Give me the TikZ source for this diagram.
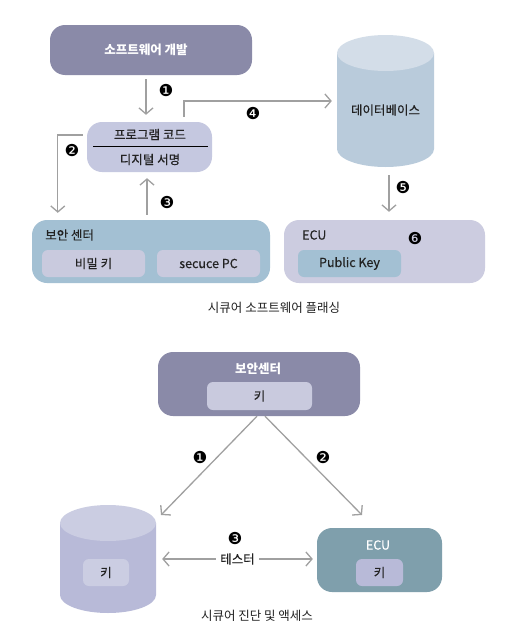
\documentclass[tikz,border=0pt]{standalone}
\usepackage{fontspec}
\setmainfont{Noto Sans CJK KR}
\newfontfamily\medf{Noto Sans CJK KR}[FakeBold=0.4]
\newfontfamily\djv{DejaVu Sans}
\usetikzlibrary{arrows.meta,calc}
\definecolor{purp}{HTML}{8A8AA8}
\definecolor{lav}{HTML}{C5C8E0}
\definecolor{bluebx}{HTML}{A3C0D3}
\definecolor{inlav}{HTML}{C9CADE}
\definecolor{ecubx}{HTML}{CCCCE0}
\definecolor{dbbody}{HTML}{B9CBDB}
\definecolor{dbtop}{HTML}{D3DDE8}
\definecolor{cylbody}{HTML}{B8BAD8}
\definecolor{cyltop}{HTML}{CBCDE2}
\definecolor{ecuteal}{HTML}{7F9FAC}
\definecolor{arrgray}{HTML}{A0A0A0}
\definecolor{txt}{HTML}{222222}
\tikzset{
  bigbox/.style={rectangle, rounded corners=15pt, inner sep=0pt, text=txt},
  inbox/.style={rectangle, rounded corners=6pt, inner sep=0pt, text=txt, font=\medf\fontsize{12.5}{14}\selectfont},
  arr/.style={draw=arrgray, line width=1.3pt, -{Straight Barb[length=6pt,width=14pt,line width=1.3pt]}},
  darr/.style={draw=arrgray, line width=1.3pt, {Straight Barb[length=6pt,width=14pt,line width=1.3pt]}-{Straight Barb[length=6pt,width=14pt,line width=1.3pt]}},
  num/.style={inner sep=0pt, font=\djv\fontsize{16.5}{16.5}\selectfont, text=black},
  lbl/.style={inner sep=0pt, text=txt, font=\medf\fontsize{12.5}{14}\selectfont},
  wlbl/.style={inner sep=0pt, text=white, font=\bfseries\fontsize{12.5}{14}\selectfont},
  captxt/.style={inner sep=0pt, text=txt, font=\fontsize{12.5}{14}\selectfont},
}
\begin{document}
\begin{tikzpicture}[x=1pt,y=-1pt]
\useasboundingbox[fill=white] (0,0) rectangle (510,637);
% ---------- top diagram ----------
\node[bigbox, fill=purp, minimum width=202pt, minimum height=50pt] (sw) at (151,50) {};
\node[wlbl] (swt) at (146,50) {소프트웨어 개발};
\node[bigbox, fill=lav, minimum width=125pt, minimum height=50pt] (code) at (149.5,147) {};
\draw[line width=0.8pt, black] (93,146) -- (208,146);
\node[lbl] (codet) at (150,134.5) {프로그램 코드};
\node[lbl] (sig) at (150,159.5) {디지털 서명};
% database cylinder
\node[minimum width=97pt, minimum height=132pt, inner sep=0pt] (db) at (385.5,101) {};
\fill[dbbody] (337,53) -- (337,149) arc[start angle=180, end angle=360, x radius=48.5, y radius=-18] -- (434,53) -- cycle;
\fill[dbtop] (385.5,53) ellipse[x radius=48.5, y radius=18];
\node[lbl] (dbt) at (385.5,110) {데이터베이스};
% security center
\node[bigbox, fill=bluebx, minimum width=238pt, minimum height=63pt] (sec) at (151,251.5) {};
\node[lbl, anchor=west] (sect) at (45,235) {보안 센터};
\node[inbox, fill=inlav, minimum width=103pt, minimum height=27pt] (skey) at (93.5,263.5) {비밀 키};
\node[inbox, fill=inlav, minimum width=103pt, minimum height=27pt] (spc) at (208.5,263.5) {secuce PC};
% ECU
\node[bigbox, fill=ecubx, minimum width=201pt, minimum height=63pt] (ecu) at (384.5,251.5) {};
\node[lbl, anchor=west] (ecut) at (302,235) {ECU};
\node[inbox, fill=bluebx, minimum width=103pt, minimum height=27pt] (pk) at (349.5,263.5) {Public Key};
% arrows
\coordinate (c1) at (146,0);
\coordinate (c3) at (147,0);
\coordinate (c5) at (389,0);
\draw[arr, shorten <=4pt, shorten >=7pt] (sw.south -| c1) -- (code.north -| c1);
\draw[arr] ($(code.west)+(-4,-12)$) -| ($(sec.north west)+(26,-7)$);
\draw[arr, shorten <=5pt, shorten >=6pt] (sec.north -| c3) -- (code.south -| c3);
\draw[arr] ($(code.north)+(34.5,-5)$) |- ($(db.west)+(-5,0)$);
\draw[arr, shorten <=8pt, shorten >=8pt] (db.south -| c5) -- (ecu.north -| c5);
\node[num] (n1) at (166,90) {❶};
\node[num] (n2) at (72,150) {❷};
\node[num] (n3) at (167,202) {❸};
\node[num] (n4) at (253,113) {❹};
\node[num] (n5) at (403,187) {❺};
\node[num] (n6) at (415,238) {❻};
\node[captxt] (cap1) at (274,308) {시큐어 소프트웨어 플래싱};
% ---------- bottom diagram ----------
\node[bigbox, fill=purp, minimum width=202pt, minimum height=64pt] (bc) at (259,384) {};
\node[wlbl] (bct) at (258,369) {보안센터};
\node[inbox, fill=inlav, minimum width=105pt, minimum height=28pt] (k1) at (259.5,396) {키};
% left cylinder
\node[minimum width=96pt, minimum height=108pt, inner sep=0pt] (cyl) at (108,559) {};
\fill[cylbody] (60,523) -- (60,595) arc[start angle=180, end angle=360, x radius=48, y radius=-18] -- (156,523) -- cycle;
\fill[cyltop] (108,523) ellipse[x radius=48, y radius=18];
\node[inbox, fill=cyltop, minimum width=46pt, minimum height=27pt] (k2) at (106,572.5) {키};
% ECU 2
\node[bigbox, fill=ecuteal, minimum width=125pt, minimum height=64pt] (ecu2) at (379.5,560) {};
\node[wlbl, font=\medf\fontsize{12.5}{14}\selectfont] (ecu2t) at (378,545) {ECU};
\node[inbox, fill=cylbody, minimum width=47pt, minimum height=27pt] (k3) at (379.5,572.5) {키};
% connectors
\coordinate (e1) at (161,515);
\coordinate (e2) at (362,515);
\draw[arr] ($(bc.south)+(-2,0)$) -- (e1);
\draw[arr] ($(bc.south)+(6,0)$) -- (e2);
\node[num] (m1) at (200,457) {❶};
\node[num] (m2) at (323,457) {❷};
\draw[darr] ($(cyl.east)+(6,0)$) -- node[lbl, fill=white, inner xsep=4pt, inner ysep=2pt] (tester) {테스터} ($(ecu2.west)+(-4,-1)$);
\node[num] (m3) at (235,538) {❸};
\node[captxt] (cap2) at (257,616) {시큐어 진단 및 액세스};
\end{tikzpicture}
\end{document}
